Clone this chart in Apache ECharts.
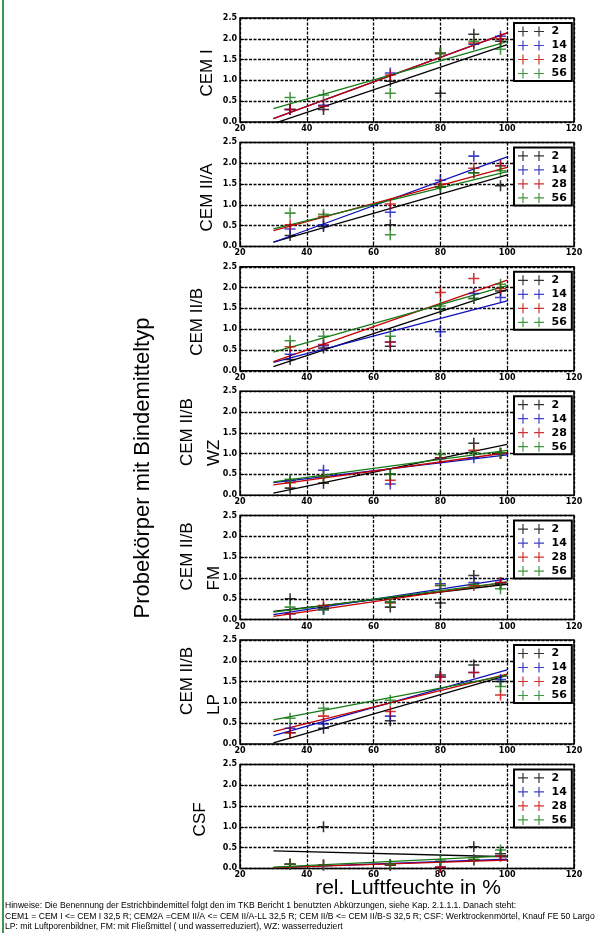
<!DOCTYPE html>
<html>
<head>
<meta charset="utf-8">
<script src="https://cdn.jsdelivr.net/npm/echarts@6/dist/echarts.min.js"></script>
<style>
  html, body { margin: 0; padding: 0; background: #fff; }
  #main { width: 609px; height: 933px; }
</style>
</head>
<body>
<div id="main"></div>
<script>
// relative humidity of the sample points, and range of the fit lines
const humidity = [35, 45, 65, 80, 90, 98];
const fitRange = [30, 100];
const ages = ['2', '14', '28', '56'];
const ageColors = ['#000000', '#1010b8', '#c40000', '#157a15'];
const xTicks = [20, 40, 60, 80, 100, 120];
const yTicks = [0, 0.5, 1.0, 1.5, 2.0, 2.5];

// one list per panel: values for age 2, 14, 28, 56
const cemI = [
  [0.30, 0.30, 0.98, 0.69, 2.11, 1.94],
  [0.30, 0.40, 1.18, 1.65, 1.87, 2.06],
  [0.30, 0.38, 1.13, 1.65, 1.90, 2.00],
  [0.59, 0.65, 0.69, 1.65, 1.94, 1.75]
];
const cemIIA = [
  [0.26, 0.48, 0.52, 1.43, 1.77, 1.46],
  [0.42, 0.52, 0.82, 1.59, 2.17, 1.94],
  [0.52, 0.72, 1.02, 1.50, 1.88, 1.94],
  [0.80, 0.77, 0.28, 1.43, 1.77, 1.82]
];
const cemIIB = [
  [0.27, 0.55, 0.59, 1.48, 1.74, 1.92],
  [0.40, 0.60, 0.69, 0.94, 1.86, 1.76],
  [0.58, 0.63, 0.69, 1.88, 2.22, 1.98],
  [0.72, 0.83, 0.83, 1.56, 1.74, 2.08]
];
const cemIIBWZ = [
  [0.17, 0.29, 0.51, 0.90, 1.25, 1.00],
  [0.35, 0.60, 0.27, 0.88, 0.90, 1.00],
  [0.30, 0.45, 0.36, 0.90, 1.08, 1.00],
  [0.38, 0.45, 0.51, 0.98, 1.02, 1.02]
];
const cemIIBFM = [
  [0.50, 0.28, 0.30, 0.40, 1.06, 0.85],
  [0.14, 0.24, 0.42, 0.86, 0.89, 0.89],
  [0.14, 0.34, 0.40, 0.82, 0.82, 0.89],
  [0.30, 0.24, 0.42, 0.82, 0.85, 0.74]
];
const cemIIBLP = [
  [0.27, 0.38, 0.56, 1.66, 1.90, 1.50],
  [0.38, 0.48, 0.67, 1.61, 1.72, 1.55],
  [0.27, 0.67, 0.78, 1.61, 1.72, 1.18],
  [0.62, 0.86, 1.05, null, null, 1.38]
];
const csf = [
  [0.10, 1.00, 0.08, 0.03, 0.52, 0.35],
  [0.10, 0.08, 0.08, 0.03, 0.20, 0.30],
  [0.10, 0.08, 0.08, 0.03, 0.20, 0.30],
  [0.10, 0.08, 0.10, 0.20, 0.22, 0.44]
];

// fitted line values at 30 % and 100 %
const cemIFit = [[-0.04, 1.86], [0.08, 2.14], [0.08, 2.14], [0.32, 1.93]];
const cemIIAFit = [[0.10, 1.72], [0.10, 2.15], [0.38, 1.90], [0.42, 1.80]];
const cemIIBFit = [[0.10, 1.95], [0.20, 1.68], [0.22, 2.18], [0.45, 2.05]];
const cemIIBWZFit = [[0.05, 1.22], [0.30, 0.97], [0.25, 1.02], [0.32, 1.08]];
const cemIIBFMFit = [[0.20, 0.85], [0.12, 0.98], [0.08, 0.90], [0.18, 0.90]];
const cemIIBLPFit = [[0.03, 1.65], [0.20, 1.78], [0.30, 1.68], [0.58, 1.65]];
const csfFit = [[0.42, 0.28], [0.02, 0.22], [0.02, 0.20], [0.03, 0.30]];

const panels = [cemI, cemIIA, cemIIB, cemIIBWZ, cemIIBFM, cemIIBLP, csf];
const panelFits = [cemIFit, cemIIAFit, cemIIBFit, cemIIBWZFit, cemIIBFMFit, cemIIBLPFit, csfFit];
const binderLabels = [['CEM I'], ['CEM II/A'], ['CEM II/B'], ['CEM II/B', 'WZ'], ['CEM II/B', 'FM'], ['CEM II/B', 'LP'], ['CSF']];

const notes = [
  'Hinweise: Die Benennung der Estrichbindemittel folgt den im TKB Bericht 1 benutzten Abkürzungen, siehe Kap. 2.1.1.1. Danach steht:',
  'CEM1 = CEM I <= CEM I 32,5 R; CEM2A =CEM II/A <= CEM II/A-LL 32,5 R; CEM II/B <= CEM II/B-S 32,5 R; CSF: Werktrockenmörtel, Knauf FE 50 Largo',
  'LP: mit Luftporenbildner, FM: mit Fließmittel ( und wasserreduziert), WZ: wasserreduziert'
];

const plus = 'path://M0,4.3h10v1.4h-10z M4.3,0h1.4v10h-1.4z';
const plusPair = 'path://M0,4.4h10v1.2h-10z M4.4,0h1.2v10h-1.2z M16,4.4h10v1.2h-10z M20.4,0h1.2v10h-1.2z';

const gridLeft = 240;
const gridWidth = 334;
const gridHeight = 104;
const panelTop = i => 18 + i * 124.4;

const grids = [], xAxes = [], yAxes = [], series = [], legends = [], graphics = [];

const tickFont = { fontSize: 8, fontWeight: 'bold', fontFamily: 'DejaVu Sans', color: '#000' };
const gridLine = { show: true, lineStyle: { color: '#000', width: 1.3, type: [3, 1.5] } };

panels.forEach((vals, p) => {
  const top = panelTop(p);
  grids.push({
    left: gridLeft, top: top, width: gridWidth, height: gridHeight,
    show: true, borderColor: '#000', borderWidth: 1.5, backgroundColor: '#fff'
  });
  xAxes.push({
    type: 'value', gridIndex: p, min: xTicks[0], max: xTicks[xTicks.length - 1], interval: 20,
    axisLine: { show: false },
    axisTick: { show: true, inside: true, length: 4, lineStyle: { color: '#000' } },
    axisLabel: Object.assign({ margin: 3 }, tickFont),
    splitLine: gridLine
  });
  yAxes.push({
    type: 'value', gridIndex: p, min: yTicks[0], max: yTicks[yTicks.length - 1], interval: 0.5,
    axisLine: { show: false },
    axisTick: { show: true, inside: true, length: 4, lineStyle: { color: '#000' } },
    axisLabel: Object.assign({ margin: 3, formatter: v => v.toFixed(1) }, tickFont),
    splitLine: gridLine
  });

  ages.forEach((age, s) => {
    series.push({
      type: 'line', name: age + ' fit', xAxisIndex: p, yAxisIndex: p,
      data: fitRange.map((x, k) => [x, panelFits[p][s][k]]),
      symbol: 'none', silent: true, z: 2,
      lineStyle: { color: ageColors[s], width: 1.3 }
    });
  });
  ages.forEach((age, s) => {
    series.push({
      type: 'scatter', name: age, xAxisIndex: p, yAxisIndex: p,
      data: humidity.map((x, i) => [x, vals[s][i]]),
      symbol: plus, symbolSize: 11, silent: true, z: 3,
      itemStyle: { color: ageColors[s] }
    });
  });

  legends.push({
    left: 514, top: top + 5, orient: 'vertical', selectedMode: false,
    backgroundColor: '#fff', borderColor: '#000', borderWidth: 2,
    padding: [3, 5, 2, 4], itemGap: 3, itemWidth: 27, itemHeight: 10,
    textStyle: { fontSize: 11, fontWeight: 'bold', fontFamily: 'DejaVu Sans', color: '#000', padding: [0, 0, 0, 2] },
    data: ages.map(a => ({ name: a, icon: plusPair }))
  });

  // binder type label, rotated, one or two lines
  const lines = binderLabels[p];
  if (lines.length === 1) {
    graphics.push({
      type: 'text', x: lines[0] === 'CEM II/B' ? 197 : (lines[0] === 'CSF' ? 200 : 207),
      y: top + gridHeight / 2 + 3, rotation: Math.PI / 2,
      style: { text: lines[0], fontSize: 17, fontFamily: 'Liberation Sans', fill: '#000', align: 'center', verticalAlign: 'middle' }
    });
  } else {
    lines.forEach((t, k) => {
      graphics.push({
        type: 'text', x: k === 0 ? 187 : 214, y: top + gridHeight * 0.72, rotation: Math.PI / 2,
        style: { text: t, fontSize: 17, fontFamily: 'Liberation Sans', fill: '#000', align: 'left', verticalAlign: 'middle' }
      });
    });
  }
});

graphics.push(
  { type: 'rect', shape: { x: 2, y: 0, width: 2, height: 933 }, style: { fill: '#3a9a48' } },
  {
    type: 'text', x: 143, y: 468, rotation: Math.PI / 2,
    style: { text: 'Probekörper mit Bindemitteltyp', fontSize: 22, fontFamily: 'Liberation Sans', fill: '#000', align: 'center', verticalAlign: 'middle' }
  },
  {
    type: 'text', x: 408, y: 888,
    style: { text: 'rel. Luftfeuchte in %', fontSize: 21, fontFamily: 'Liberation Sans', fill: '#000', align: 'center', verticalAlign: 'middle' }
  }
);
notes.forEach((t, k) => {
  graphics.push({
    type: 'text', x: 5, y: 906 + k * 10.5,
    style: { text: t, fontSize: 8.6, fontFamily: 'Liberation Sans', fill: '#000', verticalAlign: 'middle' }
  });
});

const myChart = echarts.init(document.getElementById('main'));
myChart.setOption({
  animation: false,
  backgroundColor: '#fff',
  grid: grids,
  xAxis: xAxes,
  yAxis: yAxes,
  legend: legends,
  series: series,
  graphic: graphics
});
</script>
</body>
</html>
